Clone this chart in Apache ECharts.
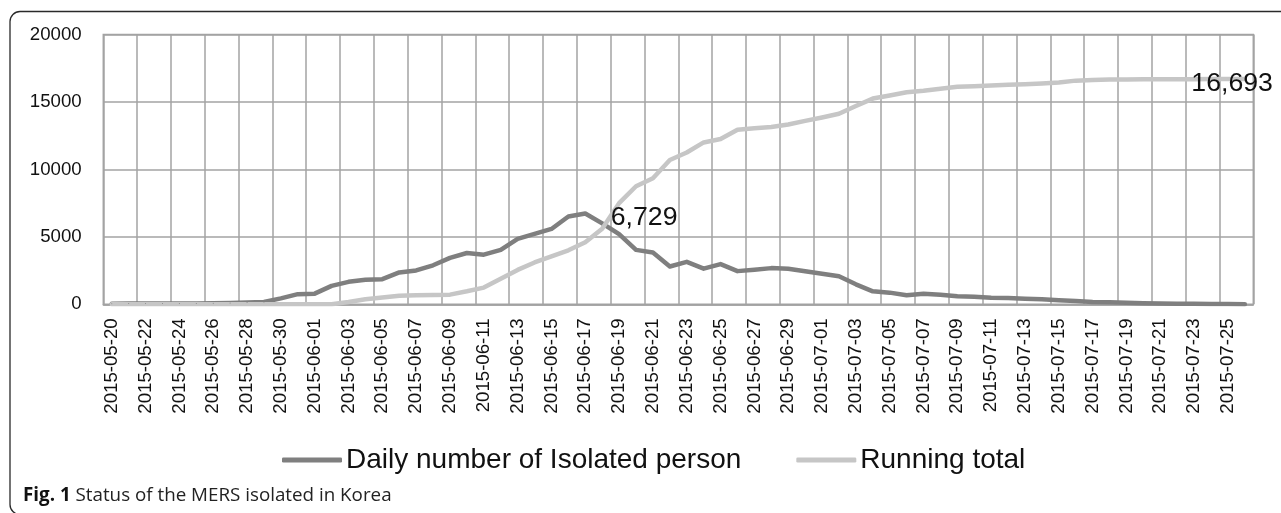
<!DOCTYPE html>
<html>
<head>
<meta charset="utf-8">
<title>Status of the MERS isolated in Korea</title>
<script src="https://cdn.jsdelivr.net/npm/echarts@6/dist/echarts.min.js"></script>
<style>
  html, body { margin: 0; padding: 0; background: #fff; }
  #chart { width: 1281px; height: 513px; }
</style>
</head>
<body>
<div id="chart"></div>
<script>
// Dates of the observation period (one entry per day)
const dates = [
  '2015-05-20','2015-05-21','2015-05-22','2015-05-23','2015-05-24','2015-05-25','2015-05-26','2015-05-27',
  '2015-05-28','2015-05-29','2015-05-30','2015-05-31','2015-06-01','2015-06-02','2015-06-03','2015-06-04',
  '2015-06-05','2015-06-06','2015-06-07','2015-06-08','2015-06-09','2015-06-10','2015-06-11','2015-06-12',
  '2015-06-13','2015-06-14','2015-06-15','2015-06-16','2015-06-17','2015-06-18','2015-06-19','2015-06-20',
  '2015-06-21','2015-06-22','2015-06-23','2015-06-24','2015-06-25','2015-06-26','2015-06-27','2015-06-28',
  '2015-06-29','2015-06-30','2015-07-01','2015-07-02','2015-07-03','2015-07-04','2015-07-05','2015-07-06',
  '2015-07-07','2015-07-08','2015-07-09','2015-07-10','2015-07-11','2015-07-12','2015-07-13','2015-07-14',
  '2015-07-15','2015-07-16','2015-07-17','2015-07-18','2015-07-19','2015-07-20','2015-07-21','2015-07-22',
  '2015-07-23','2015-07-24','2015-07-25','2015-07-26'
];

// Persons under isolation on each day
const dailyIsolated = [
  40, 60, 62, 64, 64, 68, 80, 100, 128, 170, 440, 750, 790, 1364, 1667, 1820,
  1866, 2361, 2508, 2892, 3439, 3805, 3680, 4035, 4856, 5216, 5586, 6508, 6729, 6000, 5197, 4035,
  3833, 2805, 3150, 2642, 2980, 2459, 2562, 2682, 2638, 2451, 2272, 2074, 1481, 963, 864, 667,
  790, 716, 593, 568, 494, 469, 420, 370, 296, 247, 173, 148, 110, 80, 60, 45,
  35, 25, 15, 10
];

// Cumulative count
const runningTotal = [
  0, 0, 0, 0, 0, 0, 0, 0, 0, 0, 0, 0, 0, 0, 170, 370,
  500, 640, 680, 690, 716, 963, 1240, 1900, 2550, 3100, 3550, 4000, 4600, 5600, 7500, 8750,
  9350, 10700, 11250, 12000, 12250, 12940, 13050, 13150, 13330, 13600, 13850, 14120, 14700, 15250, 15480, 15720,
  15830, 15975, 16120, 16170, 16220, 16270, 16310, 16370, 16440, 16580, 16630, 16660, 16670, 16680, 16685, 16688,
  16690, 16693, 16693, 16693
];

const seriesNames = ['Daily number of Isolated person', 'Running total'];
const yMin = 0, yMax = 20000, yStep = 5000;
const captionBold = 'Fig. 1';
const captionText = 'Status of the MERS isolated in Korea';

const FONT = '"Liberation Sans", Arial, sans-serif';
const GRID = '#a3a3a3';
const fmt = v => Number(v).toLocaleString('en-US');

const peakIdx = dailyIsolated.indexOf(Math.max.apply(null, dailyIsolated));
const lastIdx = runningTotal.length - 1;

const labelBase = {
  show: true,
  color: '#111',
  fontFamily: FONT,
  fontSize: 26.67,
  formatter: p => fmt(p.value)
};

const dailyData = dailyIsolated.map((v, i) => i === peakIdx
  ? { value: v, label: Object.assign({}, labelBase, { position: 'right', distance: 25, offset: [0, 4] }) }
  : v);

const totalData = runningTotal.map((v, i) => i === lastIdx
  ? { value: v, label: Object.assign({}, labelBase, { position: 'right', distance: 0, offset: [-54, 5] }) }
  : v);

const chart = echarts.init(document.getElementById('chart'), null, { renderer: 'canvas' });

chart.setOption({
  animation: false,
  backgroundColor: '#fff',
  grid: {
    left: 103.3, right: 27.7, top: 34.5, bottom: 208.7,
    show: true, borderColor: GRID, borderWidth: 1.5, backgroundColor: 'transparent'
  },
  legend: {
    data: seriesNames,
    left: 277, top: 441,
    icon: 'roundRect',
    itemWidth: 60, itemHeight: 5, itemGap: 55,
    textStyle: { fontFamily: FONT, fontSize: 28, color: '#111', padding: [0, 0, 0, -1] }
  },
  xAxis: {
    type: 'category',
    data: dates,
    boundaryGap: true,
    axisLine: { show: true, lineStyle: { color: GRID, width: 1.5 } },
    axisTick: { show: false },
    axisLabel: {
      interval: 1, rotate: 90, margin: 14,
      padding: [5, 0, 0, 0],
      fontFamily: FONT, fontSize: 18.67, color: '#111'
    },
    splitLine: { show: true, interval: 1, lineStyle: { color: GRID, width: 1.5 } }
  },
  yAxis: {
    type: 'value',
    min: yMin, max: yMax, interval: yStep,
    axisLine: { show: false },
    axisTick: { show: false },
    axisLabel: {
      margin: 21.6, fontFamily: FONT, fontSize: 18.67, color: '#111',
      formatter: v => String(v)
    },
    splitLine: { show: true, lineStyle: { color: GRID, width: 1.5 } }
  },
  series: [
    {
      name: seriesNames[0],
      type: 'line',
      data: dailyData,
      symbol: 'circle', symbolSize: 1, showAllSymbol: true,
      color: '#7f7f7f',
      itemStyle: { color: '#7f7f7f' },
      lineStyle: { color: '#7f7f7f', width: 4.5, cap: 'round', join: 'round' },
      emphasis: { disabled: true }
    },
    {
      name: seriesNames[1],
      type: 'line',
      data: totalData,
      symbol: 'circle', symbolSize: 1, showAllSymbol: true,
      color: '#c6c6c6',
      itemStyle: { color: '#c6c6c6' },
      lineStyle: { color: '#c6c6c6', width: 4.5, cap: 'round', join: 'round' },
      emphasis: { disabled: true }
    }
  ],
  graphic: [
    {
      type: 'rect', silent: true, z: 100,
      shape: { x: 10, y: 11.5, width: 1500, height: 503, r: 10 },
      style: { fill: 'none', stroke: '#2a2a2a', lineWidth: 1.3 }
    },
    {
      type: 'text', silent: true, z: 100,
      x: 23, y: 496,
      style: {
        text: '{b|' + captionBold + '} ' + captionText,
        fontFamily: '"Open Sans", sans-serif',
        fontSize: 18.8,
        fill: '#222',
        verticalAlign: 'middle',
        rich: { b: { fontWeight: 'bold', fontFamily: '"Open Sans", sans-serif', fontSize: 18.8, fill: '#111' } }
      }
    }
  ]
});
</script>
</body>
</html>
